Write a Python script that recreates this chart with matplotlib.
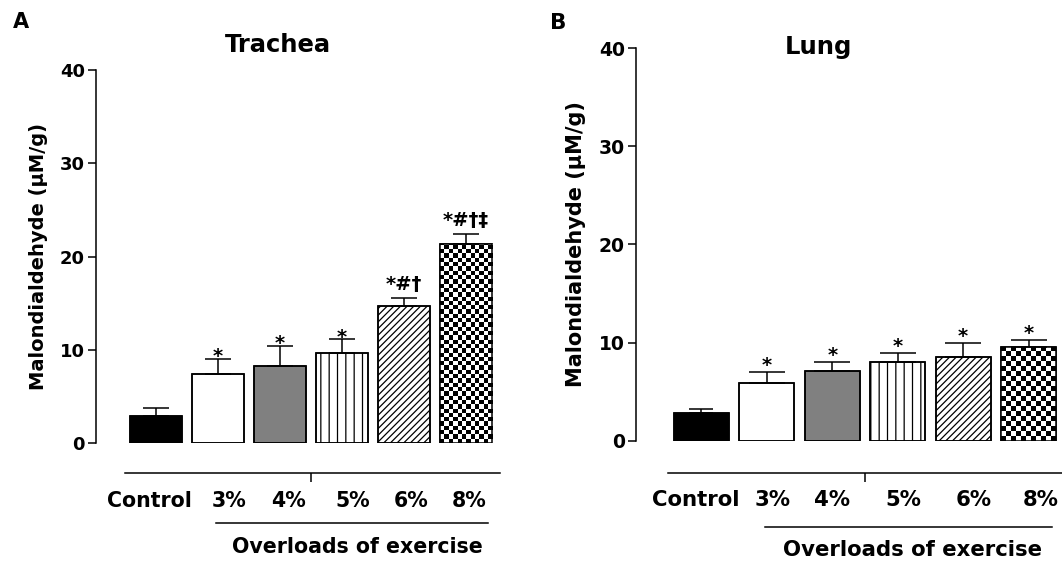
import numpy as np
import matplotlib
matplotlib.use("Agg")
import matplotlib.pyplot as plt
from matplotlib.transforms import ScaledTranslation

groups = ["Control", "3%", "4%", "5%", "6%", "8%"]
trachea_mean = [2.9, 7.4, 8.3, 9.6, 14.7, 21.3]
trachea_sem = [0.8, 1.65, 2.15, 1.55, 0.8, 1.1]
trachea_marks = ["", "*", "*", "*", "*#†", "*#†‡"]
lung_mean = [2.8, 5.9, 7.1, 8.0, 8.55, 9.55]
lung_sem = [0.5, 1.15, 0.95, 1.0, 1.45, 0.75]
lung_marks = ["", "*", "*", "*", "*", "*"]
yticks = [0, 10, 20, 30, 40]

W, H = 1062, 563
plt.rcParams["font.family"] = "DejaVu Sans"
plt.rcParams["font.weight"] = "bold"
plt.rcParams["hatch.linewidth"] = 0.9

fills = ["black", "white", "#808080", "white", "white", "white"]
hatches = [None, None, None, "||", "/////", None]

fig = plt.figure(figsize=(W / 100, H / 100), dpi=100)


def below(ax, px):
    # x in data, y = px pixels under the bottom of the axes
    return ax.get_xaxis_transform() + ScaledTranslation(0, -px / 100, fig.dpi_scale_trans)


def checker(ax, bar, cell_px):
    x0, y0 = bar.get_x(), bar.get_y()
    w, h = bar.get_width(), bar.get_height()
    sx, sy = ax.transData.transform((1, 1)) - ax.transData.transform((0, 0))
    dx, dy = cell_px / sx, cell_px / sy
    nx, ny = int(np.ceil(w / dx)), int(np.ceil(h / dy))
    grid = (np.add.outer(np.arange(ny), np.arange(nx)) % 2).astype(float)
    im = ax.imshow(grid, cmap="gray", vmin=0, vmax=1, origin="lower",
                   extent=(x0, x0 + nx * dx, y0, y0 + ny * dy),
                   aspect="auto", interpolation="nearest", zorder=2.5)
    im.set_clip_path(bar)


def panel(rect, xlim, means, sems, marks, p):
    ax = fig.add_axes([rect[0] / W, rect[1] / H, rect[2] / W, rect[3] / H])
    ax.set_xlim(*xlim)
    ax.set_ylim(0, 40)
    x = np.arange(len(groups))
    bars = ax.bar(x, means, width=p["width"], color=fills, edgecolor="black",
                  linewidth=1.1, zorder=2)
    for b, h in zip(bars, hatches):
        if h:
            b.set_hatch(h)
    checker(ax, bars[-1], p["cell"])
    ax.bar(x, means, width=p["width"], fill=False, edgecolor="black",
           linewidth=1.1, zorder=3)
    for i in x:
        ax.errorbar(i, means[i], yerr=[[0], [sems[i]]], fmt="none",
                    ecolor="black", elinewidth=1.1, capthick=1.1,
                    capsize=p["caps"][i], zorder=4)
        if marks[i]:
            off = p["star_off"] if marks[i] == "*" else 6
            ax.annotate(marks[i], xy=(i, means[i] + sems[i]), xytext=(0, off),
                        textcoords="offset points", ha="center", va="baseline",
                        fontsize=14, fontweight="bold")
    ax.set_xlim(*xlim)
    ax.set_ylim(0, 40)

    for s in ["top", "right"]:
        ax.spines[s].set_visible(False)
    ax.spines["left"].set_linewidth(1.1)
    ax.spines["bottom"].set_linewidth(1.1)
    ax.spines["bottom"].set_position(("outward", p["drop"] * 0.72))
    ax.spines["bottom"].set_bounds(p["line"][0], xlim[1])
    ax.set_yticks(yticks)
    ax.tick_params(axis="y", length=6, width=1.1, pad=2, labelsize=p["ytick_fs"])
    ax.set_xticks([2.5])
    ax.set_xticklabels([])
    ax.tick_params(axis="x", length=6.5, width=1.1)

    for i, g in enumerate(groups):
        ax.text(i + p["lab_off"][i], 0, g, transform=below(ax, p["lab_y"]),
                ha="center", va="center", fontsize=p["lab_fs"], fontweight="bold")
    ax.plot(p["under"], [0, 0], color="black", lw=1.1, clip_on=False,
            transform=below(ax, p["under_y"]))
    ax.text(p["over_x"], 0, "Overloads of exercise", transform=below(ax, p["over_y"]),
            ha="center", va="center", fontsize=p["lab_fs"], fontweight="bold")
    return ax


left = dict(width=0.839, cell=4.3, caps=[9.4] * 6, star_off=-2.6, drop=30,
            line=(-0.5,), ytick_fs=13, lab_off=[-0.11, 0.18, 0.13, 0.18, 0.11, 0.05],
            lab_y=58, lab_fs=14.8, under=[0.968, 5.355], under_y=80,
            over_x=3.24, over_y=104)
right = dict(width=0.84, cell=5.0, caps=[8.6] + [13.3] * 5, star_off=0.3, drop=32,
             line=(-0.51,), ytick_fs=13.5, lab_off=[-0.08, 0.09, 0.0, 0.08, 0.16, 0.18],
             lab_y=59, lab_fs=15.3, under=[0.97, 5.36], under_y=86,
             over_x=3.23, over_y=109)

panel((96, 120, 404, 373), (-0.968, 5.548), trachea_mean, trachea_sem, trachea_marks, left)
panel((636, 122, 426, 393), (-1.0, 5.51), lung_mean, lung_sem, lung_marks, right)


def ftext(px, py, s, **kw):
    fig.text(px / W, 1 - py / H, s, ha="center", va="center", fontweight="bold", **kw)


ftext(21, 22, "A", fontsize=15)
ftext(558, 23, "B", fontsize=15.5)
ftext(278, 45, "Trachea", fontsize=17.5)
ftext(818, 47, "Lung", fontsize=17.5)
ftext(39, 256, "Malondialdehyde (μM/g)", fontsize=14, rotation=90)
ftext(576, 244, "Malondialdehyde (μM/g)", fontsize=15, rotation=90)

fig.savefig("out.png", dpi=100)
